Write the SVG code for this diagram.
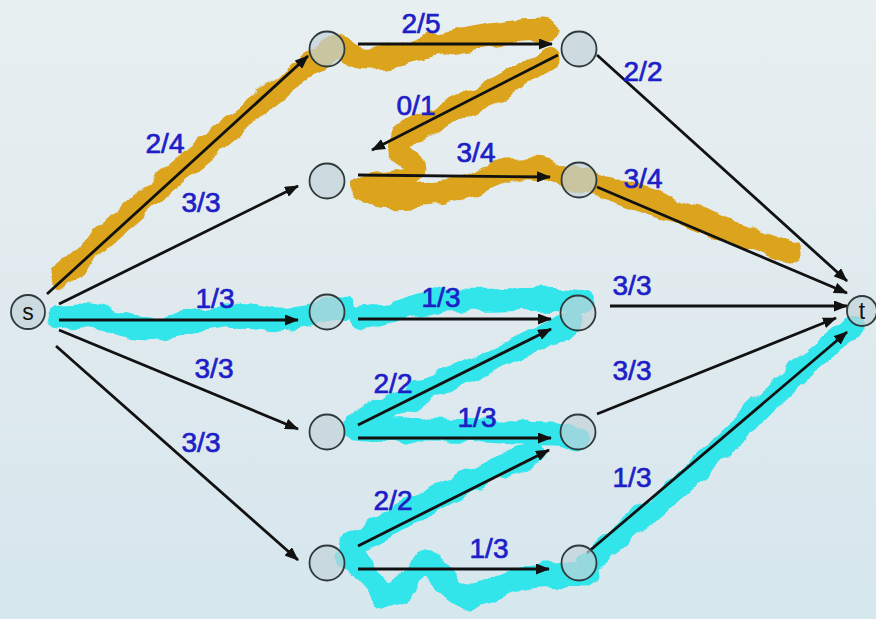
<svg xmlns="http://www.w3.org/2000/svg" width="876" height="619" viewBox="0 0 876 619">
<defs>
<linearGradient id="bg" x1="0" y1="0" x2="0" y2="1">
<stop offset="0" stop-color="#e8eff1"/>
<stop offset="0.5" stop-color="#e0eaee"/>
<stop offset="1" stop-color="#d6e7ee"/>
</linearGradient>
<filter id="rough" x="-10%" y="-10%" width="120%" height="120%">
<feTurbulence type="fractalNoise" baseFrequency="0.045" numOctaves="2" seed="5"/>
<feDisplacementMap in="SourceGraphic" scale="13" xChannelSelector="R" yChannelSelector="G"/>
</filter>
<marker id="ah" markerWidth="14" markerHeight="11" refX="13" refY="5.5" orient="auto" markerUnits="userSpaceOnUse">
<path d="M0,0 L14,5.5 L0,11 Z" fill="#111"/>
</marker>
<style>
.hl-o{fill:none;stroke:#dba41c;stroke-width:23;stroke-linecap:round;stroke-linejoin:round}
.hl-c{fill:none;stroke:#33e5ea;stroke-width:23;stroke-linecap:round;stroke-linejoin:round}
.node{fill:#c2d3d8;fill-opacity:0.7;stroke:#2f3a3c;stroke-width:1.8}
.edge{stroke:#111;stroke-width:2.8;fill:none;marker-end:url(#ah)}
.lbl{font-family:"Liberation Sans",Arial,sans-serif;font-size:28px;fill:#1e1ec8;stroke:#1e1ec8;stroke-width:0.7;text-anchor:middle}
.nl{font-family:"Liberation Sans",Arial,sans-serif;font-size:23px;fill:#111;text-anchor:middle}
</style>
</defs>
<rect width="876" height="619" fill="url(#bg)"/>

<g id="highlights" filter="url(#rough)">
<path class="hl-o" d="M62,276 Q 110,232 150,196 T 240,120 T 336,46"/>
<path class="hl-o" d="M340,48 C 355,62 385,60 420,50 S 510,30 545,30"/>
<path class="hl-o" d="M548,60 C 500,88 440,118 405,135 C 385,150 420,160 410,175 C 400,188 362,180 362,190 C 380,200 420,195 450,190 C 480,185 490,170 520,168 C 545,166 560,175 572,180"/>
<path class="hl-o" d="M585,182 C 640,196 700,222 792,252"/>
<path class="hl-c" d="M58,318 C 100,306 120,334 160,328 S 230,310 262,318 S 320,306 345,310"/>
<path class="hl-c" d="M362,318 C 400,314 420,298 460,300 S 540,296 582,302"/>
<path class="hl-c" d="M572,322 C 520,346 460,378 360,420"/>
<path class="hl-c" d="M355,428 C 400,432 450,428 500,432 S 560,430 578,440"/>
<path class="hl-c" d="M534,454 C 480,472 420,505 350,545"/>
<path class="hl-c" d="M346,556 C 372,566 372,604 396,594 C 416,584 410,552 434,566 C 454,594 464,604 492,590 S 540,574 588,576"/>
<path class="hl-c" d="M588,562 C 650,512 700,470 760,410 S 830,346 852,328"/>
</g>

<g id="connectors">
<line class="edge" x1="47" y1="294" x2="308" y2="56"/>
<line class="edge" x1="59" y1="304" x2="298" y2="186"/>
<line class="edge" x1="59" y1="320" x2="298" y2="320"/>
<line class="edge" x1="59" y1="330" x2="298" y2="429"/>
<line class="edge" x1="56" y1="346" x2="298" y2="560"/>
<line class="edge" x1="358" y1="44" x2="552" y2="44"/>
<line class="edge" x1="558" y1="55" x2="372" y2="150"/>
<line class="edge" x1="358" y1="175" x2="550" y2="177"/>
<line class="edge" x1="597" y1="55" x2="847" y2="281"/>
<line class="edge" x1="597" y1="187" x2="847" y2="293"/>
<line class="edge" x1="358" y1="319" x2="551" y2="319"/>
<line class="edge" x1="610" y1="306" x2="847" y2="306"/>
<line class="edge" x1="358" y1="425" x2="551" y2="329"/>
<line class="edge" x1="358" y1="438" x2="551" y2="438"/>
<line class="edge" x1="597" y1="414" x2="836" y2="318"/>
<line class="edge" x1="358" y1="546" x2="549" y2="450"/>
<line class="edge" x1="358" y1="569" x2="549" y2="569"/>
<line class="edge" x1="587" y1="553" x2="847" y2="332"/>
</g>

<g id="n-s"><circle class="node" cx="28" cy="312" r="17"/><text class="nl" x="28" y="320">s</text></g>
<g id="n-a1"><circle class="node" cx="327" cy="49" r="17.5"/></g>
<g id="n-a2"><circle class="node" cx="327" cy="181" r="17.5"/></g>
<g id="n-a3"><circle class="node" cx="327" cy="312" r="17.5"/></g>
<g id="n-a4"><circle class="node" cx="327" cy="432" r="17.5"/></g>
<g id="n-a5"><circle class="node" cx="327" cy="563" r="17.5"/></g>
<g id="n-b1"><circle class="node" cx="579" cy="49" r="17.5"/></g>
<g id="n-b2"><circle class="node" cx="579" cy="180" r="17.5"/></g>
<g id="n-b3"><circle class="node" cx="578" cy="313" r="17.5"/></g>
<g id="n-b4"><circle class="node" cx="578" cy="432" r="17.5"/></g>
<g id="n-b5"><circle class="node" cx="579" cy="563" r="17.5"/></g>
<g id="n-t"><circle class="node" cx="862" cy="311" r="15"/><text class="nl" x="862" y="319">t</text></g>

<g id="labels">
<text class="lbl" x="165" y="153">2/4</text>
<text class="lbl" x="201" y="212">3/3</text>
<text class="lbl" x="215" y="308">1/3</text>
<text class="lbl" x="214" y="378">3/3</text>
<text class="lbl" x="201" y="452">3/3</text>
<text class="lbl" x="421" y="33">2/5</text>
<text class="lbl" x="416" y="115">0/1</text>
<text class="lbl" x="476" y="162">3/4</text>
<text class="lbl" x="643" y="81">2/2</text>
<text class="lbl" x="643" y="188">3/4</text>
<text class="lbl" x="441" y="307">1/3</text>
<text class="lbl" x="632" y="295">3/3</text>
<text class="lbl" x="393" y="393">2/2</text>
<text class="lbl" x="477" y="427">1/3</text>
<text class="lbl" x="632" y="380">3/3</text>
<text class="lbl" x="393" y="510">2/2</text>
<text class="lbl" x="489" y="558">1/3</text>
<text class="lbl" x="632" y="487">1/3</text>
</g>
</svg>
